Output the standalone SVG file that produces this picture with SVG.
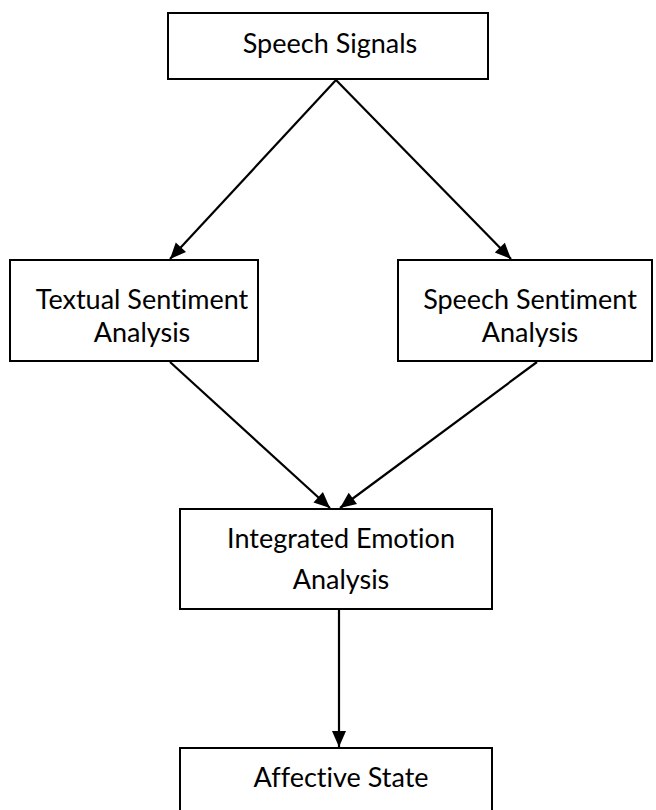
<svg xmlns="http://www.w3.org/2000/svg" width="656" height="810" viewBox="0 0 656 810">
<defs>
<marker id="ah" viewBox="0 0 16 14" refX="16" refY="7" markerWidth="16" markerHeight="14" markerUnits="userSpaceOnUse" orient="auto" style="overflow:visible">
<path d="M0,0 L16,7 L0,14 z" fill="#000"/>
</marker>
<style>
.box{fill:#fff;stroke:#000;stroke-width:2}
.t{font-family:Lato,"Open Sans","Liberation Sans",sans-serif;font-size:27px;fill:#000;text-anchor:middle;font-variant-ligatures:none}
.c{stroke:#000;stroke-width:2.2;fill:none;marker-end:url(#ah)}
</style>
</defs>
<rect width="656" height="810" fill="#fff"/>
<g id="connectors">
<line class="c" x1="336" y1="80" x2="170" y2="259"/>
<line class="c" x1="336" y1="80" x2="511" y2="259"/>
<line class="c" x1="170" y1="362" x2="330" y2="508"/>
<line class="c" x1="537" y1="362" x2="340" y2="508"/>
<line class="c" x1="339" y1="610" x2="339" y2="747"/>
</g>
<g id="speech-signals">
<rect class="box" x="168" y="13" width="320" height="66"/>
<text class="t" x="330" y="53">Speech Signals</text>
</g>
<g id="textual-sentiment">
<rect class="box" x="10" y="260" width="248" height="101"/>
<text class="t" x="142" y="309">Textual Sentiment</text>
<text class="t" x="142" y="342">Analysis</text>
</g>
<g id="speech-sentiment">
<rect class="box" x="398" y="260" width="254" height="101"/>
<text class="t" x="530" y="309">Speech Sentiment</text>
<text class="t" x="530" y="342">Analysis</text>
</g>
<g id="integrated-emotion">
<rect class="box" x="180" y="509" width="312" height="100"/>
<text class="t" x="341" y="548">Integrated Emotion</text>
<text class="t" x="341" y="589">Analysis</text>
</g>
<g id="affective-state">
<rect class="box" x="180" y="748" width="312" height="70"/>
<text class="t" x="341" y="787">Affective State</text>
</g>
</svg>
